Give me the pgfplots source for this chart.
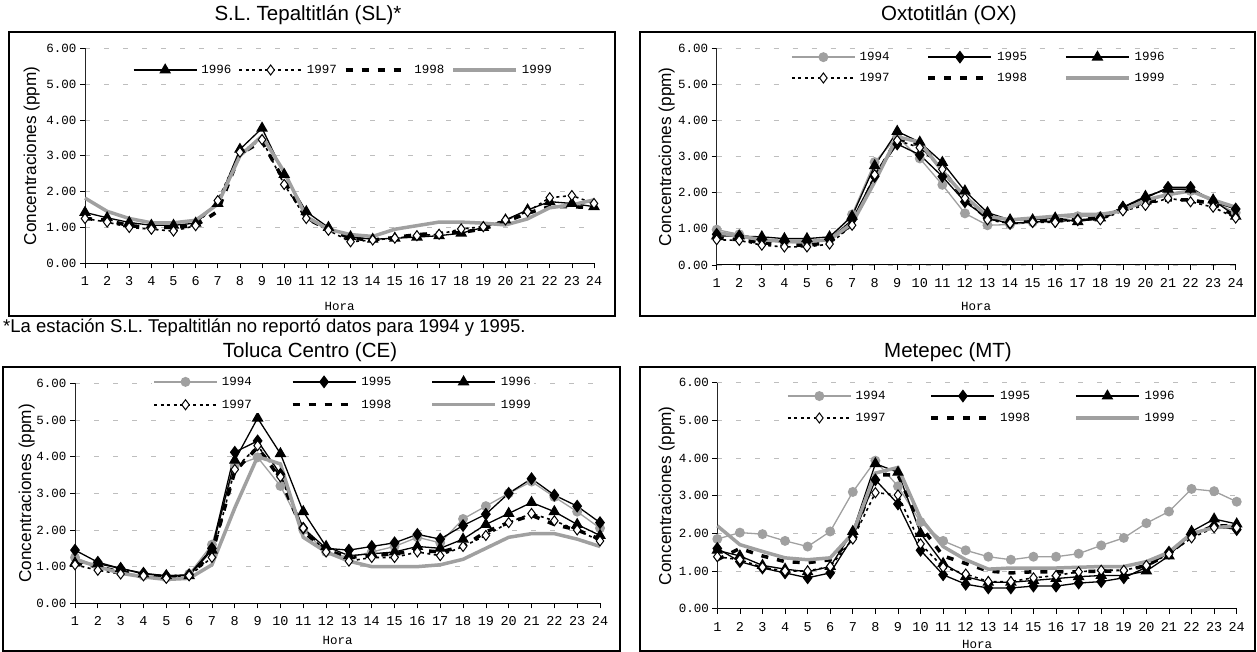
\documentclass[border=0pt]{standalone}
\usepackage{fontspec}
\setmainfont{Liberation Sans}
\newfontfamily\mono{Liberation Mono}
\usepackage{pgfplots}
\pgfplotsset{compat=1.18}
\usepackage{pgfplotstable}
\definecolor{g94}{RGB}{160,160,160}
\definecolor{g99}{RGB}{160,160,160}
\definecolor{gridc}{RGB}{190,190,190}

\pgfplotstableread{
h y96 y97 y98 y99
1 1.42 1.25 1.25 1.82
2 1.27 1.15 1.20 1.45
3 1.14 1.00 1.05 1.25
4 1.06 0.95 1.00 1.13
5 1.06 0.90 1.00 1.13
6 1.12 1.05 1.05 1.20
7 1.67 1.75 1.45 1.65
8 3.18 3.10 3.05 3.00
9 3.77 3.45 3.40 3.55
10 2.48 2.20 2.30 2.55
11 1.44 1.25 1.25 1.30
12 1.00 0.92 0.95 0.95
13 0.74 0.60 0.70 0.80
14 0.67 0.65 0.65 0.75
15 0.70 0.70 0.72 0.95
16 0.73 0.77 0.80 1.05
17 0.77 0.81 0.84 1.15
18 0.84 0.96 0.86 1.15
19 1.00 1.02 0.96 1.12
20 1.21 1.21 1.16 1.07
21 1.49 1.44 1.40 1.24
22 1.72 1.83 1.58 1.55
23 1.67 1.89 1.58 1.63
24 1.58 1.67 1.55 1.77
}\tSL

\pgfplotstableread{
h y94 y95 y96 y97 y98 y99
1 0.98 0.85 0.80 0.70 0.75 0.90
2 0.85 0.80 0.80 0.68 0.70 0.80
3 0.70 0.70 0.78 0.55 0.62 0.70
4 0.63 0.65 0.73 0.50 0.55 0.65
5 0.60 0.65 0.73 0.50 0.55 0.65
6 0.70 0.70 0.78 0.58 0.62 0.70
7 1.40 1.25 1.35 1.10 1.15 1.15
8 2.85 2.45 2.75 2.50 2.40 2.30
9 3.55 3.35 3.70 3.45 3.50 3.55
10 2.95 3.05 3.40 3.25 3.35 3.40
11 2.22 2.45 2.84 2.65 2.65 2.60
12 1.43 1.75 2.05 1.85 1.80 1.90
13 1.10 1.30 1.45 1.25 1.30 1.35
14 1.12 1.15 1.25 1.15 1.20 1.25
15 1.18 1.20 1.25 1.18 1.22 1.30
16 1.25 1.20 1.30 1.18 1.25 1.35
17 1.35 1.25 1.20 1.25 1.25 1.40
18 1.35 1.30 1.30 1.25 1.30 1.40
19 1.55 1.60 1.60 1.50 1.55 1.50
20 1.80 1.85 1.90 1.65 1.75 1.80
21 1.95 2.15 2.10 1.85 1.80 1.95
22 2.05 2.15 2.10 1.75 1.80 2.05
23 1.75 1.75 1.80 1.60 1.70 1.80
24 1.45 1.55 1.35 1.30 1.35 1.60
}\tOX

\pgfplotstableread{
h y94 y95 y96 y97 y98 y99
1 1.25 1.45 1.10 1.05 1.10 1.20
2 1.00 1.12 1.08 0.90 1.00 1.00
3 0.85 0.95 0.95 0.80 0.85 0.82
4 0.75 0.82 0.80 0.75 0.78 0.72
5 0.70 0.75 0.75 0.68 0.72 0.65
6 0.80 0.78 0.75 0.75 0.75 0.68
7 1.60 1.50 1.45 1.25 1.35 1.05
8 3.75 4.12 3.90 3.65 3.60 2.60
9 3.98 4.43 5.05 4.30 4.25 4.00
10 3.20 3.52 4.08 3.45 3.40 3.80
11 2.00 2.05 2.50 2.05 1.95 1.80
12 1.40 1.50 1.55 1.40 1.45 1.40
13 1.25 1.45 1.30 1.15 1.25 1.15
14 1.40 1.55 1.35 1.25 1.30 1.00
15 1.55 1.65 1.40 1.25 1.35 1.00
16 1.80 1.88 1.55 1.40 1.45 1.00
17 1.65 1.75 1.50 1.30 1.40 1.05
18 2.30 2.12 1.75 1.55 1.55 1.20
19 2.65 2.43 2.15 1.85 1.95 1.50
20 3.00 3.00 2.45 2.20 2.20 1.80
21 3.32 3.40 2.75 2.45 2.40 1.90
22 2.90 2.95 2.50 2.25 2.15 1.90
23 2.50 2.65 2.15 2.00 2.00 1.75
24 2.05 2.20 1.85 1.70 1.75 1.55
}\tCE

\pgfplotstableread{
h y94 y95 y96 y97 y98 y99
1 1.85 1.60 1.55 1.38 1.30 2.20
2 2.02 1.25 1.40 1.30 1.60 1.70
3 1.98 1.08 1.15 1.10 1.40 1.52
4 1.80 0.95 1.05 1.00 1.25 1.35
5 1.65 0.82 0.98 1.00 1.22 1.30
6 2.05 0.95 1.12 1.12 1.30 1.35
7 3.10 1.90 2.05 1.85 1.85 2.00
8 3.93 3.42 3.85 3.08 3.55 3.60
9 3.25 2.78 3.62 3.02 3.55 3.75
10 2.30 1.55 2.00 1.72 2.20 2.40
11 1.80 0.90 1.20 1.10 1.40 1.65
12 1.55 0.65 0.85 0.92 1.20 1.30
13 1.38 0.55 0.70 0.72 1.00 1.05
14 1.30 0.55 0.70 0.72 0.95 1.08
15 1.38 0.60 0.75 0.82 0.98 1.08
16 1.38 0.60 0.80 0.88 0.98 1.08
17 1.46 0.68 0.85 0.98 0.98 1.10
18 1.68 0.72 0.88 1.02 1.00 1.12
19 1.88 0.82 0.88 1.02 1.00 1.12
20 2.27 1.10 1.00 1.15 1.15 1.25
21 2.58 1.50 1.40 1.45 1.45 1.50
22 3.18 1.95 2.05 1.88 1.95 2.00
23 3.12 2.20 2.38 2.15 2.20 2.15
24 2.84 2.10 2.25 2.15 2.20 2.20
}\tMT

\newcommand\tickfont{\mono\fontsize{12.5}{14}\selectfont}
\newcommand\xtickfont{\mono\fontsize{13.5}{15}\selectfont}

\pgfplotsset{
  panel/.style={
    scale only axis, clip=false,
    xmin=1, xmax=24, ymin=0, ymax=6,
    xtick={1,...,24}, ytick={0,...,6},
    axis x line=bottom, axis y line=left,
    axis line style={-},
    x axis line style={black, line width=1pt},
    y axis line style={black!85, line width=0.8pt},
    tick align=outside, major tick length=5pt,
    tick style={black, line width=0.7pt},
    ymajorgrids,
    major grid style={gridc, line width=0.8pt, dash pattern=on 5pt off 14pt},
    /pgf/number format/assume math mode=true,
    yticklabel style={font=\tickfont, /pgf/number format/.cd, fixed, fixed zerofill, precision=2},
    xticklabel style={font=\xtickfont, yshift=-5pt},
    legend cell align=left,
    legend image code/.code={\draw[mark repeat=2,mark phase=2,##1] plot coordinates {(0pt,0pt) (31.5pt,0pt) (63pt,0pt)};},
  },
  leg/.style n args={5}{legend columns=#1,
    legend style={draw=none, fill=white, inner sep=1pt, font=\tickfont,
      at={(axis description cs:#2,#3)}, anchor=west,
      row sep=#5,
      /tikz/every odd column/.append style={column sep=2pt},
      /tikz/every even column/.append style={column sep=#4}}},
  s94/.style={color=g94, line width=1.3pt, mark=*, mark size=4.3pt, mark options={fill=g94, draw=g94, solid}},
  s95/.style={black, line width=1.3pt, mark=diamond*, mark size=5.5pt, mark options={fill=black, solid}},
  s96/.style={black, line width=1.3pt, mark=triangle*, mark size=5.5pt, mark options={fill=black, solid}},
  s97/.style={black, line width=1.6pt, dash pattern=on 3pt off 3.5pt, mark=diamond*, mark size=5pt, mark options={fill=white, draw=black, solid, line width=1pt}},
  s98/.style={black, line width=3.5pt, dash pattern=on 7pt off 9pt, mark=none},
  s99/.style={color=g99, line width=3.5pt, mark=none},
}

\begin{document}
\begin{tikzpicture}[x=1pt,y=1pt]
\useasboundingbox (0,0) rectangle (1257,652);
% frames
\draw[line width=2pt] (8.5,620) rectangle (615,336);
\draw[line width=2pt] (640,620) rectangle (1255,336);
\draw[line width=2pt] (3,285) rectangle (620,1);
\draw[line width=2pt] (640,285) rectangle (1255,1);

% SL
\begin{axis}[panel, at={(85pt,388.7pt)}, anchor=south west, width=509pt, height=215pt,
  leg={4}{0.092}{0.899}{5pt}{7pt}]
\addplot[s96] table[x=h,y=y96]{\tSL}; \addlegendentry{1996}
\addplot[s97] table[x=h,y=y97]{\tSL}; \addlegendentry{1997}
\addplot[s98] table[x=h,y=y98]{\tSL}; \addlegendentry{1998}
\addplot[s99] table[x=h,y=y99]{\tSL}; \addlegendentry{1999}
\end{axis}

% OX
\begin{axis}[panel, at={(716.7pt,387pt)}, anchor=south west, width=519pt, height=216.7pt,
  leg={3}{0.141}{0.911}{35pt}{7pt}]
\addplot[s94] table[x=h,y=y94]{\tOX}; \addlegendentry{1994}
\addplot[s95] table[x=h,y=y95]{\tOX}; \addlegendentry{1995}
\addplot[s96] table[x=h,y=y96]{\tOX}; \addlegendentry{1996}
\addplot[s97] table[x=h,y=y97]{\tOX}; \addlegendentry{1997}
\addplot[s98] table[x=h,y=y98]{\tOX}; \addlegendentry{1998}
\addplot[s99] table[x=h,y=y99]{\tOX}; \addlegendentry{1999}
\end{axis}

% CE
\begin{axis}[panel, at={(75pt,48.7pt)}, anchor=south west, width=525pt, height=220pt,
  leg={3}{0.1467}{0.9545}{37pt}{9pt}]
\addplot[s94] table[x=h,y=y94]{\tCE}; \addlegendentry{1994}
\addplot[s95] table[x=h,y=y95]{\tCE}; \addlegendentry{1995}
\addplot[s96] table[x=h,y=y96]{\tCE}; \addlegendentry{1996}
\addplot[s97] table[x=h,y=y97]{\tCE}; \addlegendentry{1997}
\addplot[s98] table[x=h,y=y98]{\tCE}; \addlegendentry{1998}
\addplot[s99] table[x=h,y=y99]{\tCE}; \addlegendentry{1999}
\end{axis}

% MT
\begin{axis}[panel, at={(717.3pt,43.3pt)}, anchor=south west, width=519.4pt, height=226pt,
  leg={3}{0.132}{0.8925}{42pt}{8pt}]
\addplot[s94] table[x=h,y=y94]{\tMT}; \addlegendentry{1994}
\addplot[s95] table[x=h,y=y95]{\tMT}; \addlegendentry{1995}
\addplot[s96] table[x=h,y=y96]{\tMT}; \addlegendentry{1996}
\addplot[s97] table[x=h,y=y97]{\tMT}; \addlegendentry{1997}
\addplot[s98] table[x=h,y=y98]{\tMT}; \addlegendentry{1998}
\addplot[s99] table[x=h,y=y99]{\tMT}; \addlegendentry{1999}
\end{axis}

% titles and labels
\node[font=\fontsize{20.5}{24}\selectfont] at (308,637) {S.L. Tepaltitlán (SL)*};
\node[font=\fontsize{20.5}{24}\selectfont] at (949,637) {Oxtotitlán (OX)};
\node[font=\fontsize{20.5}{24}\selectfont] at (310,300) {Toluca Centro (CE)};
\node[font=\fontsize{20.5}{24}\selectfont] at (948,300) {Metepec (MT)};
\node[font=\fontsize{18.5}{22}\selectfont, anchor=west, inner sep=0pt] at (3,324) {*La estación S.L. Tepaltitlán no reportó datos para 1994 y 1995.};
\node[font=\fontsize{17.2}{20}\selectfont, rotate=90] at (31.7,496.2) {Concentraciones (ppm)};
\node[font=\fontsize{17.2}{20}\selectfont, rotate=90] at (666.7,495.3) {Concentraciones (ppm)};
\node[font=\fontsize{17.2}{20}\selectfont, rotate=90] at (26.7,158.7) {Concentraciones (ppm)};
\node[font=\fontsize{17.2}{20}\selectfont, rotate=90] at (666.7,156.3) {Concentraciones (ppm)};
\node[font=\tickfont] at (339.6,346) {Hora};
\node[font=\tickfont] at (976,346) {Hora};
\node[font=\tickfont] at (337.5,12) {Hora};
\node[font=\tickfont] at (977,8) {Hora};
\end{tikzpicture}
\end{document}
